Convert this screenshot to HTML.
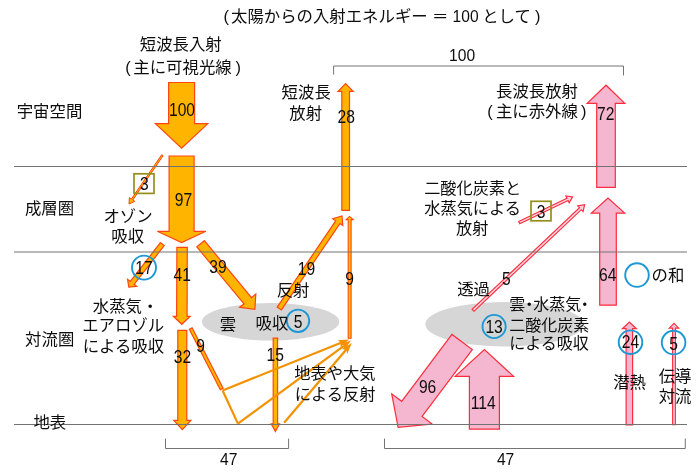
<!DOCTYPE html>
<html lang="ja"><head><meta charset="utf-8"><title>地球のエネルギー収支</title>
<style>
html,body{margin:0;padding:0;background:#fff;}
svg{display:block;}
text{font-family:"Liberation Sans","Noto Sans CJK JP",sans-serif;fill:#0d0d0d;font-weight:400;}
</style></head><body>
<svg width="700" height="473" viewBox="0 0 700 473">
<rect width="700" height="473" fill="#fff"/>
<ellipse cx="270.6" cy="321.8" rx="68.7" ry="18.8" fill="#D6D6D6"/>
<ellipse cx="504.5" cy="324.3" rx="79.2" ry="22.2" fill="#D6D6D6"/>
<polyline points="333.6,74.6 333.6,66 623.5,66 623.5,75.5" fill="none" stroke="#747474" stroke-width="1"/>
<polyline points="165.5,438.6 165.5,448.5 288.6,448.5 288.6,438.6" fill="none" stroke="#747474" stroke-width="1"/>
<polyline points="384.5,438.6 384.5,448.5 685.3,448.5 685.3,438.6" fill="none" stroke="#747474" stroke-width="1"/>
<polygon points="168.6,82.5 168.6,123.6 155.4,123.6 181.6,148.2 207.8,123.6 194.6,123.6 194.6,82.5" fill="#FFB400" stroke="#FF4612" stroke-width="1.2" stroke-linejoin="miter"/>
<polygon points="169.1,156.0 169.1,231.3 157.3,231.3 181.6,242.5 205.9,231.3 194.1,231.3 194.1,156.0" fill="#FFB400" stroke="#FF4612" stroke-width="1.2" stroke-linejoin="miter"/>
<polygon points="161.7,154.7 131.4,199.0 129.4,197.6 129.0,204.0 134.8,201.3 132.8,200.0 163.1,155.7" fill="#FFB400" stroke="#FF4612" stroke-width="1.0" stroke-linejoin="miter"/>
<polygon points="160.4,242.6 130.3,281.4 127.6,279.3 128.8,287.2 136.7,286.4 134.1,284.3 164.2,245.6" fill="#FFB400" stroke="#FF4612" stroke-width="1.2" stroke-linejoin="miter"/>
<polygon points="176.9,247.3 176.6,316.3 173.4,316.3 181.8,324.3 190.2,316.3 187.1,316.3 187.3,247.3" fill="#FFB400" stroke="#FF4612" stroke-width="1.2" stroke-linejoin="miter"/>
<polygon points="196.8,246.9 244.0,303.8 239.7,307.3 254.9,309.3 255.8,294.0 251.5,297.6 204.4,240.7" fill="#FFB400" stroke="#FF4612" stroke-width="1.2" stroke-linejoin="miter"/>
<polygon points="177.8,330.3 177.8,420.4 173.8,420.4 182.3,429.6 190.9,420.4 186.8,420.4 186.8,330.3" fill="#FFB400" stroke="#FF4612" stroke-width="1.2" stroke-linejoin="miter"/>
<polygon points="189.3,329.2 220.3,389.7 223.1,388.3 192.1,327.8" fill="#FFB400" stroke="#FF4612" stroke-width="1.2"/>
<polygon points="273.2,338.2 273.2,423.8 271.2,423.8 275.4,431.4 279.5,423.8 277.6,423.8 277.6,338.2" fill="#FFB400" stroke="#FF4612" stroke-width="1.2" stroke-linejoin="miter"/>
<polygon points="281.4,309.9 339.9,223.6 342.8,225.6 342.0,216.0 332.7,218.8 335.7,220.8 277.2,307.1" fill="#FFB400" stroke="#FF4612" stroke-width="1.2" stroke-linejoin="miter"/>
<polygon points="351.1,338.3 351.1,219.6 353.2,219.6 349.6,216.4 346.1,219.6 348.2,219.6 348.2,338.3" fill="#FFC400" stroke="#FF4612" stroke-width="1.1" stroke-linejoin="miter"/>
<polygon points="349.5,210.3 349.5,91.4 353.2,91.4 345.6,83.5 338.0,91.4 341.8,91.4 341.8,210.3" fill="#FFB400" stroke="#FF4612" stroke-width="1.2" stroke-linejoin="miter"/>
<polyline points="222.6,390.5 237.9,423.6" fill="none" stroke="#F39200" stroke-width="2.2"/>
<line x1="222.6" y1="390.5" x2="341.0" y2="342.7" stroke="#F39200" stroke-width="2.2"/><polygon points="349.2,339.4 340.3,346.9 341.0,342.7 337.7,340.2" fill="#F39200"/>
<line x1="237.9" y1="423.6" x2="343.9" y2="345.8" stroke="#F39200" stroke-width="2.2"/><polygon points="351.0,340.6 344.3,350.0 343.9,345.8 340.0,344.2" fill="#F39200"/>
<line x1="284.1" y1="422.8" x2="346.1" y2="349.7" stroke="#F39200" stroke-width="2.2"/><polygon points="351.8,343.0 347.4,353.7 346.1,349.7 341.9,349.1" fill="#F39200"/>
<polygon points="615.3,187.4 615.3,103.3 624.8,103.3 606.0,85.2 587.2,103.3 596.7,103.3 596.7,187.4" fill="#F5B6CF" stroke="#FF2D3C" stroke-width="1.2" stroke-linejoin="miter"/>
<polygon points="616.3,305.2 616.3,213.1 624.7,213.1 608.0,198.0 591.3,213.1 599.7,213.1 599.7,305.2" fill="#F5B6CF" stroke="#FF2D3C" stroke-width="1.2" stroke-linejoin="miter"/>
<polygon points="519.7,223.8 568.1,200.5 569.2,202.8 572.6,196.9 565.9,195.9 567.0,198.2 518.7,221.6" fill="#FBD3E0" stroke="#FF2D3C" stroke-width="1.15" stroke-linejoin="miter"/>
<polygon points="473.9,311.3 581.3,209.7 583.1,211.5 584.6,204.7 577.7,205.9 579.5,207.7 472.1,309.3" fill="#FBD3E0" stroke="#FF2D3C" stroke-width="1.15" stroke-linejoin="miter"/>
<polygon points="451.9,334.4 401.7,401.3 391.7,393.8 398.1,427.3 432.1,424.0 422.1,416.5 472.3,349.6" fill="#F5B6CF" stroke="#FF2D3C" stroke-width="1.2" stroke-linejoin="miter"/>
<polygon points="499.4,429.2 499.4,376.4 513.6,376.4 484.4,349.5 455.2,376.4 469.4,376.4 469.4,429.2" fill="#F5B6CF" stroke="#FF2D3C" stroke-width="1.2" stroke-linejoin="miter"/>
<polygon points="632.6,424.8 632.6,328.7 636.4,328.7 629.4,322.1 622.4,328.7 626.1,328.7 626.1,424.8" fill="#F5B6CF" stroke="#FF2D3C" stroke-width="1.2" stroke-linejoin="miter"/>
<polygon points="675.4,424.8 675.4,328.1 678.7,328.1 674.0,323.4 669.3,328.1 672.6,328.1 672.6,424.8" fill="#F9C6D8" stroke="#FF2D3C" stroke-width="1.1" stroke-linejoin="miter"/>
<line x1="14" y1="166.5" x2="687" y2="166.5" stroke="#727272" stroke-width="1"/>
<line x1="14" y1="252" x2="687" y2="252" stroke="#727272" stroke-width="1"/>
<line x1="14" y1="424.5" x2="687" y2="424.5" stroke="#727272" stroke-width="1"/>
<rect x="134" y="173.8" width="20" height="19.6" fill="none" stroke="#958E1C" stroke-width="1.7"/>
<rect x="531" y="201.3" width="20" height="19.5" fill="none" stroke="#958E1C" stroke-width="1.7"/>
<circle cx="144" cy="267.6" r="12.0" fill="none" stroke="#1C98D6" stroke-width="1.9"/>
<circle cx="298" cy="320.8" r="11.2" fill="none" stroke="#1C98D6" stroke-width="1.9"/>
<circle cx="494.1" cy="326.5" r="11.6" fill="none" stroke="#1C98D6" stroke-width="1.9"/>
<circle cx="637" cy="275.1" r="11.8" fill="none" stroke="#1C98D6" stroke-width="1.9"/>
<circle cx="630.5" cy="342.2" r="11.8" fill="none" stroke="#1C98D6" stroke-width="1.9"/>
<circle cx="673.6" cy="342.6" r="11.8" fill="none" stroke="#1C98D6" stroke-width="1.9"/>
<text x="223.5" y="21.6" text-anchor="start" font-size="16.4">(</text>
<text x="231.0" y="21.6" text-anchor="start" font-size="16.4">太陽からの入射エネルギー</text>
<text x="432.0" y="21.6" text-anchor="start" font-size="16.4">＝</text>
<text transform="translate(465.6,21.9) scale(0.93,1)" text-anchor="middle" font-size="16.8">100</text>
<text x="482.2" y="21.6" text-anchor="start" font-size="16.4">として</text>
<text x="535.0" y="21.6" text-anchor="start" font-size="16.4">)</text>
<text x="180.8" y="50.0" text-anchor="middle" font-size="16.4">短波長入射</text>
<text x="125.3" y="73.1" text-anchor="start" font-size="16.4">(</text>
<text x="182.5" y="73.1" text-anchor="middle" font-size="16.4">主に可視光線</text>
<text x="235.6" y="73.1" text-anchor="start" font-size="16.4">)</text>
<text x="306.2" y="98.0" text-anchor="middle" font-size="16.4">短波長</text>
<text x="305.7" y="119.4" text-anchor="middle" font-size="16.4">放射</text>
<text x="537.0" y="96.5" text-anchor="middle" font-size="16.4">長波長放射</text>
<text x="487.3" y="117.1" text-anchor="start" font-size="16.4">(</text>
<text x="536.9" y="117.1" text-anchor="middle" font-size="16.4">主に赤外線</text>
<text x="581.0" y="117.1" text-anchor="start" font-size="16.4">)</text>
<text x="49.5" y="117.1" text-anchor="middle" font-size="16.4">宇宙空間</text>
<text x="49.5" y="213.6" text-anchor="middle" font-size="16.4">成層圏</text>
<text x="49.7" y="344.6" text-anchor="middle" font-size="16.4">対流圏</text>
<text x="49.8" y="428.3" text-anchor="middle" font-size="16.4">地表</text>
<text x="128.0" y="221.6" text-anchor="middle" font-size="16.4">オゾン</text>
<text x="127.7" y="241.5" text-anchor="middle" font-size="16.4">吸収</text>
<text x="125.6" y="311.9" text-anchor="middle" font-size="16.4">水蒸気・</text>
<text x="123.2" y="331.2" text-anchor="middle" font-size="16.4">エアロゾル</text>
<text x="123.4" y="351.6" text-anchor="middle" font-size="16.4">による吸収</text>
<text x="227.9" y="329.8" text-anchor="middle" font-size="16.4">雲</text>
<text x="271.9" y="328.7" text-anchor="middle" font-size="16.4">吸収</text>
<text x="293.1" y="296.4" text-anchor="middle" font-size="16.4">反射</text>
<text x="334.9" y="378.7" text-anchor="middle" font-size="16.25">地表や大気</text>
<text x="335.2" y="400.1" text-anchor="middle" font-size="16.25">による反射</text>
<text x="472.7" y="193.6" text-anchor="middle" font-size="16.2">二酸化炭素と</text>
<text x="472.6" y="213.8" text-anchor="middle" font-size="16.2">水蒸気による</text>
<text x="472.3" y="234.4" text-anchor="middle" font-size="16.2">放射</text>
<text x="473.6" y="295.0" text-anchor="middle" font-size="16.4">透過</text>
<text x="509.3" y="309.9" text-anchor="start" font-size="16">雲</text>
<text x="529.3" y="309.9" text-anchor="middle" font-size="16">・</text>
<text x="533.3" y="309.9" text-anchor="start" font-size="16">水蒸気</text>
<text x="584.7" y="309.9" text-anchor="middle" font-size="16">・</text>
<text x="509.3" y="330.8" text-anchor="start" font-size="16">二酸化炭素</text>
<text x="509.3" y="349.3" text-anchor="start" font-size="16">による吸収</text>
<text x="651.5" y="280.7" text-anchor="start" font-size="16.4">の和</text>
<text x="629.6" y="388.2" text-anchor="middle" font-size="16.4">潜熱</text>
<text x="675.1" y="381.6" text-anchor="middle" font-size="16.4">伝導</text>
<text x="675.1" y="402.2" text-anchor="middle" font-size="16.4">対流</text>
<text transform="translate(182.0,116.3) scale(0.86,1)" text-anchor="middle" font-size="18.2">100</text>
<text transform="translate(183.4,205.5) scale(0.86,1)" text-anchor="middle" font-size="18.2">97</text>
<text transform="translate(144.4,190.3) scale(0.86,1)" text-anchor="middle" font-size="18.2">3</text>
<text transform="translate(143.9,274.4) scale(0.86,1)" text-anchor="middle" font-size="18.2">17</text>
<text transform="translate(182.3,280.5) scale(0.86,1)" text-anchor="middle" font-size="18.2">41</text>
<text transform="translate(217.9,272.8) scale(0.86,1)" text-anchor="middle" font-size="18.2">39</text>
<text transform="translate(182.5,362.9) scale(0.86,1)" text-anchor="middle" font-size="18.2">32</text>
<text transform="translate(200.6,351.9) scale(0.86,1)" text-anchor="middle" font-size="18.2">9</text>
<text transform="translate(275.3,360.9) scale(0.86,1)" text-anchor="middle" font-size="18.2">15</text>
<text transform="translate(306.5,275.4) scale(0.86,1)" text-anchor="middle" font-size="18.2">19</text>
<text transform="translate(349.5,285.1) scale(0.86,1)" text-anchor="middle" font-size="18.2">9</text>
<text transform="translate(346.3,123.1) scale(0.86,1)" text-anchor="middle" font-size="18.2">28</text>
<text transform="translate(298.0,327.9) scale(0.86,1)" text-anchor="middle" font-size="18.2">5</text>
<text transform="translate(462.1,60.9) scale(0.92,1)" text-anchor="middle" font-size="17">100</text>
<text transform="translate(605.7,120.4) scale(0.86,1)" text-anchor="middle" font-size="18.2">72</text>
<text transform="translate(541.0,217.9) scale(0.86,1)" text-anchor="middle" font-size="18.2">3</text>
<text transform="translate(506.3,284.5) scale(0.86,1)" text-anchor="middle" font-size="18.2">5</text>
<text transform="translate(607.8,280.6) scale(0.86,1)" text-anchor="middle" font-size="18.2">64</text>
<text transform="translate(494.1,332.7) scale(0.86,1)" text-anchor="middle" font-size="18.2">13</text>
<text transform="translate(427.6,393.3) scale(0.86,1)" text-anchor="middle" font-size="18.2">96</text>
<text transform="translate(483.3,409.3) scale(0.86,1)" text-anchor="middle" font-size="18.2">114</text>
<text transform="translate(630.5,348.2) scale(0.86,1)" text-anchor="middle" font-size="18.2">24</text>
<text transform="translate(673.7,350.1) scale(0.86,1)" text-anchor="middle" font-size="18.2">5</text>
<text transform="translate(228.8,465.3) scale(0.92,1)" text-anchor="middle" font-size="17">47</text>
<text transform="translate(505.6,465.3) scale(0.92,1)" text-anchor="middle" font-size="17">47</text>
</svg>
</body></html>
